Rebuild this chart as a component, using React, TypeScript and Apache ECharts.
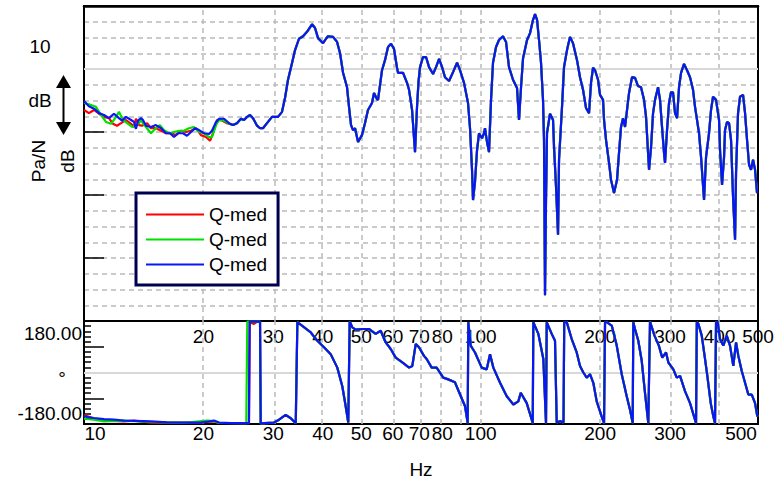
import React, { useEffect, useRef } from 'react';
import * as echarts from 'echarts';

const FONT = "'Liberation Sans', Arial, sans-serif";

// Axis ranges
const F_MIN = 10;
const F_MAX = 500;
const DB_MIN = -40;
const DB_MAX = 10;
const PH_MIN = -180;
const PH_MAX = 180;

// Tick labels (Hz)
const TOP_LABEL_HZ = [20, 30, 40, 50, 60, 70, 80, 100, 200, 300, 400, 500];
const BOTTOM_LABEL_HZ = [10, 20, 30, 40, 50, 60, 70, 80, 100, 200, 300, 500];
const GRID_HZ = [20, 30, 40, 50, 60, 70, 80, 90, 100, 200, 300, 400];
const PHASE_LABELS = [-180, 180];

const SERIES_NAMES = ['Q-med 1', 'Q-med 2', 'Q-med 3'];
const COLORS = ['#ff0000', '#00e000', '#0818f5'];

// Magnitude [Hz, dB] — low-frequency parts differ per measurement
const MAG_RED_LOW: [number, number][] = [
  [10.0, -6.5], [10.29, -7.0], [10.6, -6.5], [10.91, -7.1], [11.23, -7.6], [11.56, -7.8],
  [11.83, -8.7], [12.11, -9.0], [12.4, -8.6], [12.76, -8.1], [13.14, -8.7], [13.37, -9.2],
  [13.52, -7.9], [13.76, -8.9], [14.0, -9.0], [14.42, -8.6], [14.75, -9.4], [15.18, -9.4],
  [15.64, -9.8], [16.1, -10.2], [16.57, -10.2], [17.06, -10.5], [17.56, -9.8], [18.08, -10.0],
  [18.61, -9.8], [19.16, -9.4], [19.72, -10.5], [20.3, -10.8], [20.78, -11.4], [21.14, -10.2],
  [21.64, -8.1], [22.15, -8.1], [22.93, -8.6],
];
const MAG_GREEN_LOW: [number, number][] = [
  [10.0, -5.4], [10.29, -5.6], [10.72, -6.0], [11.04, -7.3], [11.36, -8.4], [11.7, -8.7],
  [12.04, -7.6], [12.25, -6.8], [12.54, -8.1], [12.84, -8.6], [13.22, -9.2], [13.6, -8.9],
  [13.92, -8.2], [14.33, -9.2], [14.75, -10.2], [15.18, -9.4], [15.54, -8.9], [15.91, -9.7],
  [16.38, -10.2], [16.86, -10.0], [17.36, -9.8], [17.86, -9.8], [18.39, -9.4], [18.93, -9.2],
  [19.5, -10.0], [20.07, -10.2], [20.66, -10.8], [21.02, -10.8], [21.52, -8.9], [21.89, -8.1],
  [22.54, -8.2], [23.2, -8.7],
];
const MAG_BLUE_LOW: [number, number][] = [
  [10.0, -5.1], [10.29, -5.9], [10.6, -6.3], [10.91, -7.0], [11.23, -7.3], [11.56, -7.8],
  [11.9, -7.1], [12.25, -7.8], [12.47, -8.2], [12.76, -7.6], [13.14, -8.1], [13.37, -8.4],
  [13.52, -9.5], [13.68, -8.2], [13.92, -7.8], [14.08, -8.1], [14.33, -9.0], [14.75, -9.2],
  [15.18, -8.9], [15.64, -9.4], [16.1, -10.2], [16.48, -10.2], [16.86, -10.8], [17.26, -10.2],
  [17.77, -10.2], [18.18, -10.6], [18.61, -10.0], [19.05, -9.4], [19.5, -9.7], [20.07, -10.2],
  [20.66, -10.3], [21.02, -9.8], [21.52, -8.4], [21.89, -7.9], [22.54, -7.9], [23.2, -8.6],
];
// Above ~24 Hz the three curves coincide
const MAG_COMMON: [number, number][] = [
  [23.75, -8.9], [24.3, -8.6], [24.87, -7.9], [25.31, -8.1], [25.76, -7.6], [26.21, -7.3],
  [26.67, -7.8], [27.3, -9.0], [27.78, -9.4], [28.26, -9.4], [28.93, -8.6], [29.78, -7.6],
  [30.83, -7.6], [31.56, -6.8], [32.11, -4.6], [32.68, -1.7], [33.45, 0.95], [34.04, 3.0],
  [34.83, 4.8], [35.65, 5.2], [36.49, 5.9], [37.56, 7.1], [38.23, 6.5], [38.9, 4.9],
  [40.05, 4.1], [40.74, 4.8], [41.22, 5.2], [42.44, 5.1], [43.44, 4.3], [44.2, 2.5],
  [44.98, -0.6], [46.03, -2.9], [46.56, -6.0], [47.11, -8.9], [47.66, -9.7], [48.22, -9.4],
  [49.07, -11.6], [50.19, -10.5], [51.08, -8.6], [51.98, -6.5], [53.21, -5.4], [53.83, -3.8],
  [54.78, -4.8], [55.1, -4.9], [56.39, -0.2], [57.38, 1.4], [58.39, 3.5], [59.42, 4.0],
  [60.46, 3.2], [61.52, 0.2], [61.88, -0.6], [63.7, -0.6], [65.2, -2.2], [65.97, -3.3],
  [67.13, -6.5], [68.3, -13.2], [69.1, -6.0], [69.7, -2.0], [70.31, 0.3], [71.55, 1.9],
  [72.81, 1.9], [74.09, 0.3], [75.83, -0.8], [77.16, 0.3], [78.53, 1.6], [79.91, 0.3],
  [81.28, -1.3], [83.21, -1.9], [85.17, -0.5], [87.17, 1.0], [88.7, -0.2], [90.77, -2.2],
  [92.9, -5.4], [93.98, -9.4], [95.08, -16.0], [95.64, -20.8], [96.74, -17.9], [97.88, -12.9],
  [99.02, -10.2], [100.76, -11.0], [101.93, -10.2], [102.52, -9.4], [103.73, -11.6], [104.93, -13.2],
  [106.17, -4.9], [107.4, 1.0], [109.3, 3.5], [111.2, 4.6], [113.82, 5.2], [115.82, 4.3],
  [117.85, 0.3], [120.62, -1.7], [123.46, -3.0], [124.9, -8.1], [126.37, -2.9], [127.85, 1.7],
  [130.86, 4.6], [133.16, 5.7], [135.49, 7.8], [137.08, 8.7], [138.68, 7.8], [140.28, 4.6],
  [141.91, 1.0], [143.56, -4.9], [144.4, -11.3], [145.24, -35.9], [146.08, -20.8], [146.93, -10.2],
  [148.66, -8.1], [149.52, -7.1], [152.16, -8.1], [153.05, -12.4], [154.83, -18.7], [156.64, -26.3],
  [157.55, -14.4], [160.31, -6.0], [162.18, 0.3], [165.02, 3.0], [167.91, 5.1], [170.87, 4.1],
  [174.89, 1.4], [177.96, -1.3], [181.1, -3.3], [184.28, -6.2], [187.51, -7.0], [189.7, -2.2],
  [191.92, 0.2], [194.16, -0.2], [197.58, -1.7], [199.88, -4.1], [203.4, -4.9], [204.59, -8.1],
  [206.98, -11.3], [210.6, -14.9], [213.06, -17.6], [216.8, -19.7], [220.6, -17.6], [223.18, -13.3],
  [225.79, -9.2], [228.43, -7.8], [231.1, -9.2], [233.8, -6.5], [236.53, -3.8], [240.69, -1.3],
  [244.92, -1.4], [249.19, -2.7], [253.58, -2.9], [258.02, -4.9], [261.06, -7.6], [264.11, -13.3],
  [265.66, -16.0], [268.76, -12.4], [271.91, -7.0], [275.08, -4.9], [279.91, -2.9], [283.13, -4.9],
  [286.44, -9.2], [289.79, -13.3], [291.47, -14.9], [294.88, -9.7], [298.33, -5.4], [301.81, -3.7],
  [305.34, -3.7], [308.91, -7.0], [312.52, -7.8], [316.17, -2.9], [319.87, -0.6], [325.49, 0.8],
  [331.2, -0.2], [337.01, -1.3], [342.92, -3.3], [346.93, -6.0], [355.1, -10.2], [359.25, -14.0],
  [365.55, -20.8], [369.83, -14.0], [376.3, -10.2], [380.7, -6.5], [385.15, -4.4], [391.92, -4.9],
  [398.8, -8.1], [401.12, -12.9], [405.81, -18.4], [410.56, -14.0], [412.93, -9.7], [417.76, -8.4],
  [422.64, -8.6], [427.58, -11.3], [432.58, -20.3], [437.63, -27.1], [440.16, -16.5], [445.31, -7.0],
  [450.51, -4.4], [458.43, -4.1], [463.78, -7.0], [469.2, -11.3], [474.69, -15.2], [480.23, -16.0],
  [485.84, -14.4], [491.52, -16.0], [497.26, -19.7],
];

// Phase [Hz, deg]
const PH_RED_LOW: [number, number][] = [
  [10.0, -149], [10.6, -161], [11.23, -168], [12.61, -171], [13.37, -168], [14.75, -175],
  [19.72, -175], [20.43, -173], [21.27, -171], [21.89, -176], [26.05, -177], [26.16, 176],
  [26.82, 170], [27.3, 177], [27.78, 178],
];
const PH_GREEN_LOW: [number, number][] = [
  [10.0, -161], [10.6, -165], [11.23, -171], [12.61, -168], [14.75, -173], [17.86, -176],
  [20.43, -168], [21.27, -170], [21.89, -176], [25.65, -177], [25.8, 178], [27.78, 178],
];
const PH_BLUE_LOW: [number, number][] = [
  [10.0, -151], [10.18, -156], [10.6, -159], [11.23, -163], [11.9, -165], [12.61, -168],
  [13.37, -169], [14.75, -171], [16.19, -174], [17.86, -175], [19.72, -175], [20.43, -172],
  [21.27, -168], [21.89, -175], [23.48, -177], [26.05, -177], [26.16, 178], [27.78, 178],
];
const PH_COMMON: [number, number][] = [
  [27.89, -178], [28.6, -177], [30.13, -175], [31.02, -165], [32.24, -148], [33.2, -160],
  [34.18, -177], [34.5, 176], [37.29, 140], [38.75, 111], [40.27, 88], [41.87, 64],
  [43.5, 17], [44.78, -48], [45.67, -118], [46.36, -175], [46.74, 178], [47.45, 158],
  [48.4, 150], [50.28, 152], [52.28, 152], [54.36, 135], [55.96, 146], [57.61, 105],
  [59.31, 82], [61.06, 52], [63.45, 35], [65.97, 17], [67.24, 23], [68.59, 100],
  [69.89, 88], [71.94, 58], [73.08, 47], [75.23, 17], [77.44, 17], [80.45, -18],
  [82.82, -24], [86.1, -34], [88.7, -77], [91.31, -118], [92.72, -177], [93.05, 176],
  [94.36, 94], [96.74, 70], [100.58, 17], [103.54, 11], [105.56, 64], [107.6, 17],
  [111.87, -36], [116.31, -83], [120.84, -112], [124.4, -101], [126.16, -71], [130.62, -107],
  [134.48, -165], [135.26, -177], [135.72, 176], [139.72, 135], [143.84, 47], [146.08, -177],
  [146.68, 176], [151.0, 135], [153.92, 111], [155.45, -175], [158.45, -170], [161.7, -175],
  [162.37, 176], [164.74, 176], [169.59, 117], [174.58, 70], [177.96, 23], [181.41, 0],
  [185.0, -18], [188.57, -6], [192.22, -36], [196.06, -101], [201.84, -154], [204.59, -177],
  [205.77, 176], [207.8, 176], [213.93, 164], [220.23, 94], [226.71, -6], [233.35, -83],
  [237.86, -130], [241.62, -177], [242.46, 176], [244.87, 152], [249.6, 111], [254.59, 41],
  [259.5, -71], [264.51, -177], [267.14, 178], [274.2, 129], [281.2, 94], [286.8, 52],
  [293.2, 70], [297.2, 35], [305.9, 11], [312.0, -18], [318.0, -12], [327.3, -65],
  [337.0, -107], [345.0, -154], [349.0, -177], [350.5, 176], [353.7, 170], [360.7, 129],
  [367.7, 47], [372.6, -12], [380.0, -107], [385.8, -154], [389.6, -177], [391.9, 176],
  [395.8, 176], [401.1, 117], [408.8, 94], [417.0, 129], [425.0, 94], [433.2, 23],
  [440.2, 105], [446.1, 58], [455.0, 5], [463.8, -36], [472.7, -77], [482.2, -77],
  [491.5, -107], [498.1, -154],
];

const MAG_SETS = [
  [...MAG_RED_LOW, ...MAG_COMMON],
  [...MAG_GREEN_LOW, ...MAG_COMMON],
  [...MAG_BLUE_LOW, ...MAG_COMMON],
];
const PH_SETS = [
  [...PH_RED_LOW, ...PH_COMMON],
  [...PH_GREEN_LOW, ...PH_COMMON],
  [...PH_BLUE_LOW, ...PH_COMMON],
];

const lg = (f: number) => Math.log10(f);
const toXY = (arr: [number, number][]) => arr.map(([f, v]) => [lg(f), v]);

const GRID_STYLE = { color: '#bbbbbb', width: 1.5, type: [5, 4] as number[] };
const TXT = { fontFamily: FONT, fontSize: 19, fill: '#000' };

export default function App() {
  const ref = useRef<HTMLDivElement>(null);

  useEffect(() => {
    if (!ref.current) return;
    const chart = echarts.init(ref.current, undefined, { renderer: 'svg' });

    const xBase = {
      type: 'value' as const,
      min: lg(F_MIN),
      max: lg(F_MAX),
      axisLine: { show: false },
      axisTick: { show: false },
      splitLine: { show: false },
    };

    const magSeries = MAG_SETS.map((d, i) => ({
      name: SERIES_NAMES[i],
      type: 'line',
      xAxisIndex: 0,
      yAxisIndex: 0,
      data: toXY(d),
      symbol: 'none',
      showSymbol: false,
      lineStyle: { color: COLORS[i], width: 2.2 },
      itemStyle: { color: COLORS[i] },
      z: 3 + i,
    }));
    const phSeries = PH_SETS.map((d, i) => ({
      name: SERIES_NAMES[i] + ' phase',
      type: 'line',
      xAxisIndex: 1,
      yAxisIndex: 2,
      data: toXY(d),
      symbol: 'none',
      showSymbol: false,
      lineStyle: { color: COLORS[i], width: 2.2 },
      itemStyle: { color: COLORS[i] },
      z: 3 + i,
    }));

    const option: any = {
      animation: false,
      backgroundColor: '#fff',
      textStyle: { fontFamily: FONT },
      grid: [
        { left: 84, top: 6, width: 674, height: 315, show: true, borderColor: '#000', borderWidth: 2, backgroundColor: 'transparent', outerBoundsMode: 'none', containLabel: false },
        { left: 84, top: 321, width: 674, height: 103, show: true, borderColor: '#000', borderWidth: 2, backgroundColor: 'transparent', outerBoundsMode: 'none', containLabel: false },
      ],
      xAxis: [
        {
          ...xBase,
          gridIndex: 0,
          position: 'bottom',
          axisLabel: {
            customValues: TOP_LABEL_HZ.map(lg),
            formatter: (v: number) => String(Math.round(Math.pow(10, v))),
            fontSize: 19,
            fontFamily: FONT,
            color: '#000',
            margin: 6,
          },
        },
        {
          ...xBase,
          gridIndex: 1,
          position: 'bottom',
          name: 'Hz',
          nameLocation: 'middle',
          nameGap: 36,
          nameTextStyle: { fontSize: 19, fontFamily: FONT, color: '#000' },
          axisLabel: {
            customValues: BOTTOM_LABEL_HZ.map(lg),
            formatter: (v: number) => {
              const f = Math.round(Math.pow(10, v));
              if (f === F_MIN) return '{l|' + f + '}';
              if (f === F_MAX) return '{r|' + f + '}';
              return String(f);
            },
            rich: {
              l: { padding: [0, 0, 0, 22], fontSize: 19, fontFamily: FONT, color: '#000' },
              r: { padding: [0, 34, 0, 0], fontSize: 19, fontFamily: FONT, color: '#000' },
            },
            fontSize: 19,
            fontFamily: FONT,
            color: '#000',
            margin: 0,
          },
        },
        {
          ...xBase,
          gridIndex: 0,
          position: 'top',
          axisLine: { show: true, onZero: false, lineStyle: { color: '#000', width: 2.5 } },
          axisLabel: { show: false },
        },
      ],
      yAxis: [
        {
          type: 'value',
          gridIndex: 0,
          min: DB_MIN,
          max: DB_MAX,
          interval: 2.5,
          position: 'left',
          axisLine: { show: false },
          axisTick: { show: false },
          axisLabel: { show: false },
          splitLine: { show: true, showMinLine: false, showMaxLine: false, lineStyle: GRID_STYLE },
        },
        {
          type: 'value',
          gridIndex: 0,
          min: DB_MIN,
          max: DB_MAX,
          interval: 10,
          position: 'left',
          axisLine: { show: true, onZero: false, lineStyle: { color: '#000', width: 2 } },
          axisTick: { show: true, inside: true, length: 20, lineStyle: { color: '#000', width: 1.5 } },
          axisLabel: { show: false },
          splitLine: { show: false },
        },
        {
          type: 'value',
          gridIndex: 1,
          min: PH_MIN,
          max: PH_MAX,
          interval: 90,
          position: 'left',
          axisLine: { show: true, onZero: false, lineStyle: { color: '#000', width: 2 } },
          axisTick: { show: true, inside: true, length: 20, lineStyle: { color: '#000', width: 1.5 } },
          minorTick: { show: true, splitNumber: 5, length: 7, lineStyle: { color: '#000', width: 1.5 } },
          splitLine: { show: false },
          axisLabel: {
            customValues: PHASE_LABELS,
            formatter: (v: number) => (v > 0 ? '{t|' + v.toFixed(2) + '}' : '{b|' + v.toFixed(2) + '}'),
            rich: {
              t: { padding: [24, 0, 0, 0], fontSize: 19, fontFamily: FONT, color: '#000' },
              b: { padding: [0, 0, 22, 0], fontSize: 19, fontFamily: FONT, color: '#000' },
            },
            fontSize: 19,
            fontFamily: FONT,
            color: '#000',
            margin: 2,
          },
        },
      ],
      legend: {
        data: SERIES_NAMES,
        formatter: () => 'Q-med',
        orient: 'vertical',
        left: 136,
        top: 193,
        icon: 'rect',
        itemWidth: 58,
        itemHeight: 2,
        itemGap: 6,
        padding: [12, 11, 11, 10],
        backgroundColor: '#fff',
        borderColor: '#000050',
        borderWidth: 3,
        borderRadius: 0,
        selectedMode: false,
        textStyle: { fontSize: 19, fontFamily: FONT, color: '#000' },
      },
      series: [
        {
          name: 'grid-top',
          type: 'line',
          xAxisIndex: 0,
          yAxisIndex: 0,
          data: [],
          silent: true,
          markLine: {
            silent: true,
            z: 1,
            symbol: ['none', 'none'],
            label: { show: false },
            lineStyle: GRID_STYLE,
            data: [
              ...GRID_HZ.map((f) => ({ xAxis: lg(f) })),
              { yAxis: 0, lineStyle: { color: '#d8d8d8', width: 2, type: 'solid' } },
            ],
          },
        },
        {
          name: 'grid-phase',
          type: 'line',
          xAxisIndex: 1,
          yAxisIndex: 2,
          data: [],
          silent: true,
          markLine: {
            silent: true,
            z: 1,
            symbol: ['none', 'none'],
            label: { show: false },
            lineStyle: GRID_STYLE,
            data: [
              ...GRID_HZ.map((f) => ({ xAxis: lg(f) })),
              { yAxis: 0, lineStyle: { color: '#d8d8d8', width: 2, type: 'solid' } },
            ],
          },
        },
        ...magSeries,
        ...phSeries,
      ],
      graphic: [
        { type: 'text', x: 40, y: 46, style: { ...TXT, text: '10', align: 'center', verticalAlign: 'middle' } },
        { type: 'text', x: 40, y: 100, style: { ...TXT, text: 'dB', align: 'center', verticalAlign: 'middle' } },
        { type: 'line', shape: { x1: 63.5, y1: 86, x2: 63.5, y2: 124 }, style: { stroke: '#000', lineWidth: 2 } },
        { type: 'polygon', shape: { points: [[56, 88], [71, 88], [63.5, 75]] }, style: { fill: '#000' } },
        { type: 'polygon', shape: { points: [[56, 122], [71, 122], [63.5, 135]] }, style: { fill: '#000' } },
        { type: 'text', x: 38, y: 161, rotation: Math.PI / 2, style: { ...TXT, text: 'Pa/N', align: 'center', verticalAlign: 'middle' } },
        { type: 'text', x: 67, y: 161, rotation: Math.PI / 2, style: { ...TXT, text: 'dB', align: 'center', verticalAlign: 'middle' } },
        { type: 'text', x: 62, y: 378, style: { ...TXT, text: '°', align: 'center', verticalAlign: 'middle' } },
      ],
    };

    chart.setOption(option);
    return () => chart.dispose();
  }, []);

  return (
    <div
      ref={ref}
      style={{ position: 'fixed', left: 0, top: 0, width: 776, height: 482, background: '#fff' }}
    />
  );
}
